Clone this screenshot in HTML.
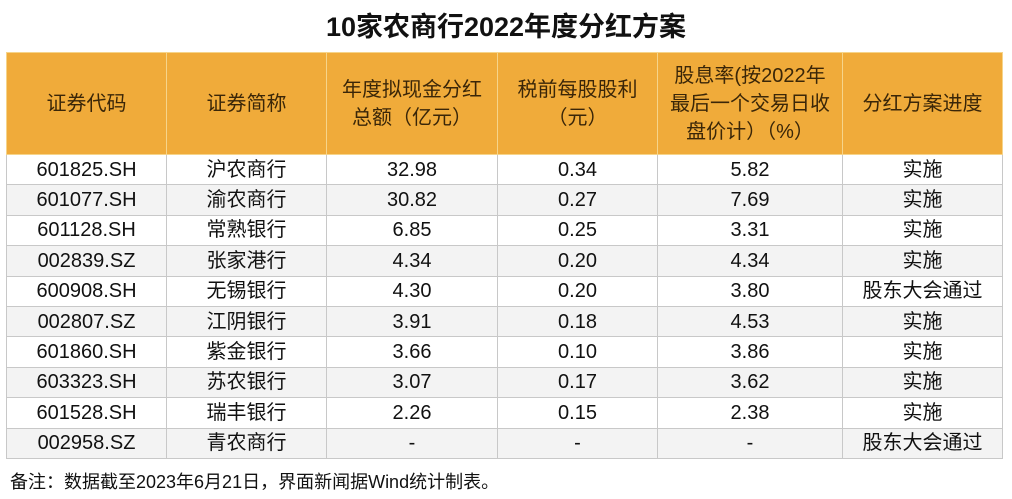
<!DOCTYPE html>
<html><head><meta charset="utf-8"><style>
body{margin:0;width:1012px;height:499px;background:#fff;font-family:"Liberation Sans","Noto Sans CJK SC",sans-serif;overflow:hidden;position:relative}
.t{position:absolute;top:5px;left:0;width:1012px;text-align:center;font-size:27px;font-weight:bold;color:#111}
table{position:absolute;left:6px;top:52px;border-collapse:collapse;table-layout:fixed}
td{border:1px solid #c8c8c8;text-align:center;font-size:20px;color:#111;height:29.4px;padding:0;line-height:20px}
tr.h td{background:#f0ab3a;height:101px;color:#3a2608;border:1px solid #f6d48a;font-size:20px;line-height:28px}
tr:nth-child(odd):not(.h) td{background:#f3f3f3}
.n{position:absolute;left:10px;top:468px;font-size:18px;color:#111}
</style></head><body>
<div class="t">10家农商行2022年度分红方案</div>
<table>
<colgroup><col style="width:160px"><col style="width:160px"><col style="width:171px"><col style="width:160px"><col style="width:185px"><col style="width:160px"></colgroup>
<tr class="h"><td>证券代码</td><td>证券简称</td><td>年度拟现金分红<br>总额（亿元）</td><td>税前每股股利<br>（元）</td><td>股息率(按2022年<br>最后一个交易日收<br>盘价计）（%）</td><td>分红方案进度</td></tr>
<tr><td>601825.SH</td><td>沪农商行</td><td>32.98</td><td>0.34</td><td>5.82</td><td>实施</td></tr>
<tr><td>601077.SH</td><td>渝农商行</td><td>30.82</td><td>0.27</td><td>7.69</td><td>实施</td></tr>
<tr><td>601128.SH</td><td>常熟银行</td><td>6.85</td><td>0.25</td><td>3.31</td><td>实施</td></tr>
<tr><td>002839.SZ</td><td>张家港行</td><td>4.34</td><td>0.20</td><td>4.34</td><td>实施</td></tr>
<tr><td>600908.SH</td><td>无锡银行</td><td>4.30</td><td>0.20</td><td>3.80</td><td>股东大会通过</td></tr>
<tr><td>002807.SZ</td><td>江阴银行</td><td>3.91</td><td>0.18</td><td>4.53</td><td>实施</td></tr>
<tr><td>601860.SH</td><td>紫金银行</td><td>3.66</td><td>0.10</td><td>3.86</td><td>实施</td></tr>
<tr><td>603323.SH</td><td>苏农银行</td><td>3.07</td><td>0.17</td><td>3.62</td><td>实施</td></tr>
<tr><td>601528.SH</td><td>瑞丰银行</td><td>2.26</td><td>0.15</td><td>2.38</td><td>实施</td></tr>
<tr><td>002958.SZ</td><td>青农商行</td><td>-</td><td>-</td><td>-</td><td>股东大会通过</td></tr>
</table>
<div class="n">备注：数据截至2023年6月21日，界面新闻据Wind统计制表。</div>
</body></html>
